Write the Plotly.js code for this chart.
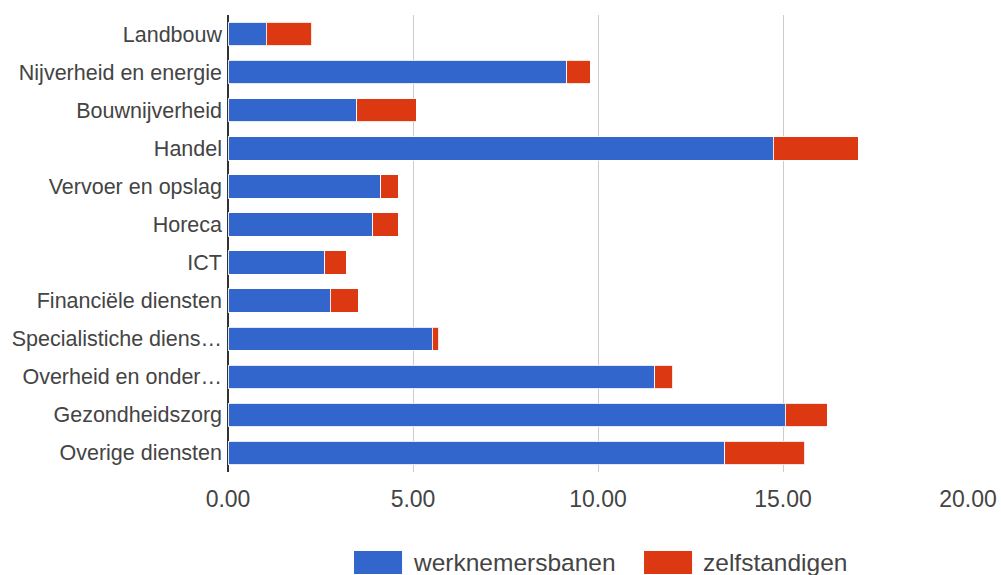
<!DOCTYPE html>
<html>
<head>
<meta charset="utf-8">
<script src="https://cdn.plot.ly/plotly-3.0.1.min.js"></script>
<style>html,body{margin:0;padding:0;background:#fff;}#chart{width:1001px;height:575px;}</style>
</head>
<body>
<div id="chart"></div>
<script>
const categories = [
  "Landbouw",
  "Nijverheid en energie",
  "Bouwnijverheid",
  "Handel",
  "Vervoer en opslag",
  "Horeca",
  "ICT",
  "Financiële diensten",
  "Specialistiche diens…",
  "Overheid en onder…",
  "Gezondheidszorg",
  "Overige diensten"
];
const werknemersbanen = [1.03, 9.15, 3.48, 14.73, 4.13, 3.91, 2.61, 2.77, 5.52, 11.54, 15.06, 13.43];
const zelfstandigen   = [1.24, 0.64, 1.61, 2.30, 0.47, 0.69, 0.59, 0.75, 0.18, 0.48, 1.13, 2.16];
const seriesNames = ["werknemersbanen", "zelfstandigen"];
const seriesColors = ["#3366cc", "#dc3912"];
const tickValues = [0, 5, 10, 15, 20];

const FONT = "Liberation Sans, Arial, sans-serif";

const traces = [werknemersbanen, zelfstandigen].map((vals, i) => ({
  type: "bar",
  orientation: "h",
  name: seriesNames[i],
  y: categories,
  x: vals,
  marker: { color: seriesColors[i], line: { color: "rgba(255,255,255,0.85)", width: 1 } },
  showlegend: false,
  hoverinfo: "x+name"
}));

// custom legend (swatches + text) in paper coordinates
const L = { w: 0.0649, y0: -0.2232, y1: -0.1729, textGap: 0.0125 };
const legendX = [0.1703, 0.5622];
const shapes = legendX.map((x, i) => ({
  type: "rect", xref: "paper", yref: "paper",
  x0: x, x1: x + L.w, y0: L.y0, y1: L.y1,
  fillcolor: seriesColors[i], line: { width: 0 }
}));
const annotations = legendX.map((x, i) => ({
  xref: "paper", yref: "paper",
  x: x + L.w + L.textGap, y: (L.y0 + L.y1) / 2,
  xanchor: "left", yanchor: "middle",
  text: seriesNames[i], showarrow: false,
  font: { family: FONT, size: 24.5, color: "#444" }
}));

const layout = {
  width: 1001, height: 575,
  margin: { l: 228, r: 33, t: 15, b: 103 },
  paper_bgcolor: "#fff", plot_bgcolor: "#fff",
  barmode: "stack",
  bargap: 0.385,
  showlegend: false,
  xaxis: {
    range: [0, 20],
    tickvals: tickValues,
    tickformat: ".2f",
    showgrid: true, gridcolor: "#cccccc", gridwidth: 1,
    zeroline: true, zerolinecolor: "#333333", zerolinewidth: 1.5,
    showline: false, ticks: "",
    ticklabelstandoff: 11,
    tickfont: { family: FONT, size: 23, color: "#444" },
    fixedrange: true
  },
  yaxis: {
    type: "category",
    autorange: "reversed",
    showgrid: false, zeroline: false, showline: false,
    ticks: "",
    ticklabelstandoff: 5,
    tickfont: { family: FONT, size: 21.5, color: "#444" },
    fixedrange: true
  },
  shapes: shapes,
  annotations: annotations,
  font: { family: FONT, color: "#444" }
};

Plotly.newPlot("chart", traces, layout, { displayModeBar: false, staticPlot: true });
</script>
</body>
</html>
